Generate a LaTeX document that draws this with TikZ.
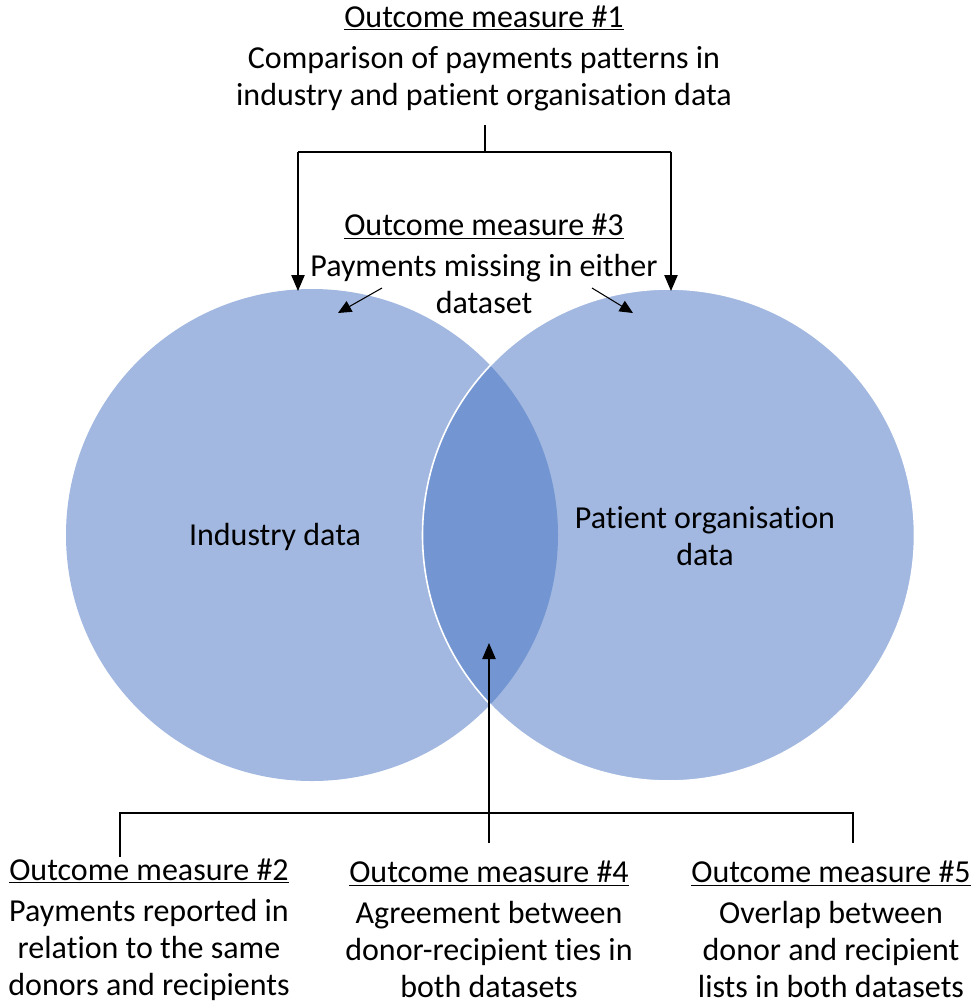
\documentclass[tikz,border=0pt]{standalone}
\usepackage{fontspec}
\setmainfont{Carlito}[Ligatures=NoCommon]
\usetikzlibrary{arrows.meta}
\definecolor{circfill}{HTML}{A2B8E0}
\definecolor{lensfill}{HTML}{7396D2}
\begin{document}
\begin{tikzpicture}[x=0.75pt,y=-0.75pt,
  txt/.style={align=center,font=\fontsize{24}{27.75}\selectfont,inner sep=0pt},
  ln/.style={line width=1pt,black},
  arr/.style={ln,-{Triangle[length=12pt,width=10pt]}},
  sarr/.style={line width=0.8pt,-{Triangle[length=10pt,width=9pt]}}]
\useasboundingbox (0,0) rectangle (975,1004);
% circles
\fill[circfill] (312,535) circle (246);
\fill[circfill] (668.5,535) circle (246);
\begin{scope}
\clip (312,535) circle (246);
\fill[lensfill] (668.5,535) circle (246);
\end{scope}
\draw[white,line width=1.2pt] (668.5,535) circle (246);
% labels in circles
\node[txt] (ind) at (275,537) {Industry data};
\node[txt] (pat) at (705,536) {Patient organisation\\data};
% top block
\node[txt] (om1) at (484,58) {\underline{Outcome measure \#1}\\[3pt]Comparison of payments patterns in\\industry and patient organisation data};
\coordinate (t1) at (485,125);
\coordinate (t2) at (485,152);
\coordinate (tl) at (298,152);
\coordinate (tr) at (671,152);
\coordinate (al) at (298,291);
\coordinate (ar) at (671,291);
\draw[ln] (t1) -- (t2);
\draw[ln] (tl) -- (tr);
\draw[arr] (tl) -- (al);
\draw[arr] (tr) -- (ar);
% middle block
\node[txt] (om3) at (484,264) {\underline{Outcome measure \#3}\\[3pt]Payments missing in either\\dataset};
\coordinate (s1) at (382,288);
\coordinate (s1e) at (338,313);
\coordinate (s2) at (592,288);
\coordinate (s2e) at (633,313);
\draw[sarr] (s1) -- (s1e);
\draw[sarr] (s2) -- (s2e);
% bottom bracket
\coordinate (b1) at (120,813);
\coordinate (b1e) at (120,857);
\coordinate (b5) at (853,813);
\coordinate (b5e) at (853,843);
\coordinate (b4) at (489,843);
\coordinate (b4e) at (489,643);
\draw[ln] (b1e) -- (b1) -- (b5) -- (b5e);
\draw[arr] (b4) -- (b4e);
% bottom blocks
\node[txt] (om2) at (149,929.5) {\underline{Outcome measure \#2}\\[3pt]Payments reported in\\relation to the same\\donors and recipients};
\node[txt] (om4) at (489,929.5) {\underline{Outcome measure \#4}\\[3pt]Agreement between\\donor-recipient ties in\\both datasets};
\node[txt] (om5) at (831,929.5) {\underline{Outcome measure \#5}\\[3pt]Overlap between\\donor and recipient\\lists in both datasets};
\end{tikzpicture}
\end{document}
